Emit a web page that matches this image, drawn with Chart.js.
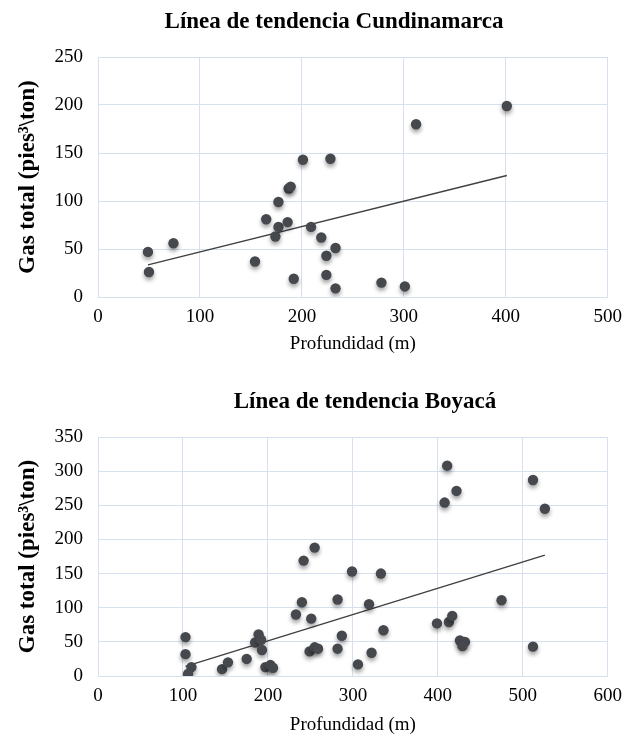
<!DOCTYPE html>
<html>
<head>
<meta charset="utf-8">
<script src="https://cdn.jsdelivr.net/npm/chart.js@4"></script>
<style>
  html, body { margin: 0; padding: 0; background: #fff; }
  .box { position: absolute; left: 0; width: 631px; }
  #box1 { top: 0; height: 370px; }
  #box2 { top: 370px; height: 369px; }
</style>
</head>
<body>
<div class="box" id="box1"><canvas id="chartCund"></canvas></div>
<div class="box" id="box2"><canvas id="chartBoy"></canvas></div>
<script>
// Cundinamarca: profundidad (m) y gas total
const cundDepth = [49, 50, 74, 154, 165, 177, 177, 174, 186, 187, 189, 192, 201, 209, 219, 228, 224, 233, 224, 233, 278, 301, 312, 401];
const cundGas   = [47, 26, 56, 37, 81, 99, 73, 63, 78, 113, 115, 19, 143, 73, 62, 144, 43, 51, 23, 9, 15, 11, 180, 199];
const cundTrendX = [49, 401];
const cundTrendY = [33.4, 126.6];

// Boyacá
const boyDepth = [411, 512, 422, 408, 526, 255, 242, 299, 333, 240, 282, 475, 319, 233, 251, 399, 413, 417, 336, 287,
                  103, 103, 189, 185, 192, 193, 426, 432, 429, 512, 249, 255, 259, 282, 322, 306, 110, 106, 146, 153,
                  175, 197, 203, 206];
const boyGas   = [308, 287, 271, 254, 245, 188, 169, 153, 150, 108, 112, 111, 105, 90, 84, 77, 79, 88, 67, 59,
                  57, 32, 61, 49, 53, 38, 52, 50, 44, 43, 36, 42, 40, 40, 34, 17, 13, 3, 10, 20,
                  25, 13, 16, 12];
const boyTrendX = [103, 526];
const boyTrendY = [14, 177];

const xTicksCund = [0, 100, 200, 300, 400, 500];
const yTicksCund = [0, 50, 100, 150, 200, 250];
const xTicksBoy = [0, 100, 200, 300, 400, 500, 600];
const yTicksBoy = [0, 50, 100, 150, 200, 250, 300, 350];

const serif = '"Liberation Serif", "Times New Roman", serif';
const gridColor = '#d7e0ee';
const markColor = '#45484c';

// sombra suave debajo de los puntos
const shadowPlugin = {
  id: 'pointShadow',
  beforeDatasetDraw(chart, args) {
    if (args.index !== 0) return;
    const ctx = chart.ctx;
    ctx.save();
    ctx.shadowColor = 'rgba(0,0,0,0.38)';
    ctx.shadowBlur = 4;
    ctx.shadowOffsetY = 3;
  },
  afterDatasetDraw(chart, args) {
    if (args.index !== 0) return;
    chart.ctx.restore();
  }
};

// título del gráfico en posición fija
const titlePlugin = {
  id: 'fixedTitle',
  afterDraw(chart, args, opts) {
    const ctx = chart.ctx;
    ctx.save();
    ctx.font = 'bold 23px ' + serif;
    ctx.fillStyle = '#000';
    ctx.textAlign = 'center';
    ctx.textBaseline = 'middle';
    ctx.fillText(opts.text, opts.x, opts.y);
    ctx.restore();
  }
};

function toPoints(xs, ys) {
  return xs.map((x, i) => ({ x: x, y: ys[i] }));
}

function makeChart(id, cfg) {
  const ctx = document.getElementById(id).getContext('2d');
  return new Chart(ctx, {
    type: 'scatter',
    data: {
      datasets: [
        {
          data: toPoints(cfg.xs, cfg.ys),
          backgroundColor: markColor,
          borderWidth: 0,
          pointRadius: 5.2,
          showLine: false
        },
        {
          type: 'line',
          data: toPoints(cfg.trendX, cfg.trendY),
          borderColor: '#404040',
          borderWidth: 1.4,
          pointRadius: 0,
          fill: false
        }
      ]
    },
    options: {
      responsive: true,
      maintainAspectRatio: false,
      animation: false,
      layout: { padding: { top: cfg.padTop, right: 18, left: 0, bottom: 0 } },
      plugins: {
        legend: { display: false },
        tooltip: { enabled: false },
        fixedTitle: { text: cfg.title, x: cfg.titleX, y: cfg.titleY }
      },
      scales: {
        x: {
          type: 'linear',
          min: cfg.xTicks[0],
          max: cfg.xTicks[cfg.xTicks.length - 1],
          afterBuildTicks: s => { s.ticks = cfg.xTicks.map(v => ({ value: v })); },
          afterFit: s => { s.height = cfg.xHeight; },
          ticks: { padding: 9, color: '#000', font: { family: serif, size: 19 } },
          grid: { color: gridColor, drawTicks: false },
          border: { color: gridColor },
          title: {
            display: true,
            text: 'Profundidad (m)',
            color: '#000',
            font: { family: serif, size: 19 },
            padding: { top: 0, bottom: cfg.xTitlePad }
          }
        },
        y: {
          min: cfg.yTicks[0],
          max: cfg.yTicks[cfg.yTicks.length - 1],
          afterBuildTicks: s => { s.ticks = cfg.yTicks.map(v => ({ value: v })); },
          afterFit: s => { s.width = 98; },
          ticks: { padding: 15, color: '#000', font: { family: serif, size: 19 } },
          grid: { color: gridColor, drawTicks: false },
          border: { color: gridColor },
          title: {
            display: true,
            text: 'Gas total (pies³\\ton)',
            color: '#000',
            font: { family: serif, size: 23, weight: 'bold' },
            padding: { top: 14, bottom: 0 }
          }
        }
      }
    },
    plugins: [shadowPlugin, titlePlugin]
  });
}

makeChart('chartCund', {
  xs: cundDepth, ys: cundGas, trendX: cundTrendX, trendY: cundTrendY,
  xTicks: xTicksCund, yTicks: yTicksCund,
  title: 'Línea de tendencia Cundinamarca', titleX: 334, titleY: 22,
  padTop: 57, xHeight: 73, xTitlePad: 15
});

makeChart('chartBoy', {
  xs: boyDepth, ys: boyGas, trendX: boyTrendX, trendY: boyTrendY,
  xTicks: xTicksBoy, yTicks: yTicksBoy,
  title: 'Línea de tendencia Boyacá', titleX: 365, titleY: 32,
  padTop: 67, xHeight: 63, xTitlePad: 3
});
</script>
</body>
</html>
